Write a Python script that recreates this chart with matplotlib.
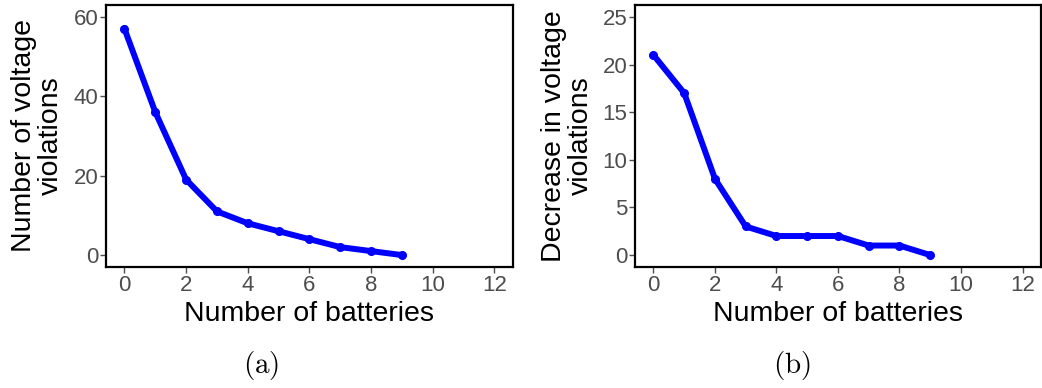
import numpy as np
from matplotlib import pyplot as plt

plt.rcParams["font.family"] = ["Liberation Sans", "DejaVu Sans"]
plt.rcParams["mathtext.fontset"] = "cm"

batteries = [0, 1, 2, 3, 4, 5, 6, 7, 8, 9]
violations = [57, 36, 19, 11, 8, 6, 4, 2, 1, 0]
decrease = [21, 17, 8, 3, 2, 2, 2, 1, 1, 0]

BLUE = "#0000ff"
GREY = "#4d4d4d"


def _style(ax, ylim, yticks):
  ax.set_xlim(-0.6, 12.6)
  ax.set_xticks(np.arange(0, 13, 2))
  ax.set_ylim(*ylim)
  ax.set_yticks(yticks)
  for spine in ax.spines.values():
    spine.set_linewidth(1.6)
    spine.set_color("black")
  ax.tick_params(colors=GREY, labelsize=16, length=4, width=1,
                 labelcolor=GREY, pad=1.5)
  ax.set_xlabel("Number of batteries", fontsize=20.5, labelpad=4)


fig = plt.figure(figsize=(10.42, 3.88), dpi=100)
ax_a = fig.add_axes([0.1017, 0.3119, 0.3906, 0.6753])
ax_b = fig.add_axes([0.6094, 0.3119, 0.3896, 0.6753])

ax_a.plot(batteries, violations, "o-", color=BLUE, lw=4.3, ms=5.5)
_style(ax_a, (-3, 63), [0, 20, 40, 60])
ax_a.set_ylabel("Number of voltage\nviolations", fontsize=20.5,
                linespacing=1.05, labelpad=7)

ax_b.plot(batteries, decrease, "o-", color=BLUE, lw=4.3, ms=5.5)
_style(ax_b, (-1.25, 26.25), [0, 5, 10, 15, 20, 25])
ax_b.set_ylabel("Decrease in voltage\nviolations", fontsize=20.5,
                linespacing=1.05, labelpad=6)

fig.text(0.251, 0.057, r"$\mathrm{(a)}$", fontsize=21, ha="center",
         va="center")
fig.text(0.760, 0.057, r"$\mathrm{(b)}$", fontsize=21, ha="center",
         va="center")

plt.savefig("out.png", dpi=100)
